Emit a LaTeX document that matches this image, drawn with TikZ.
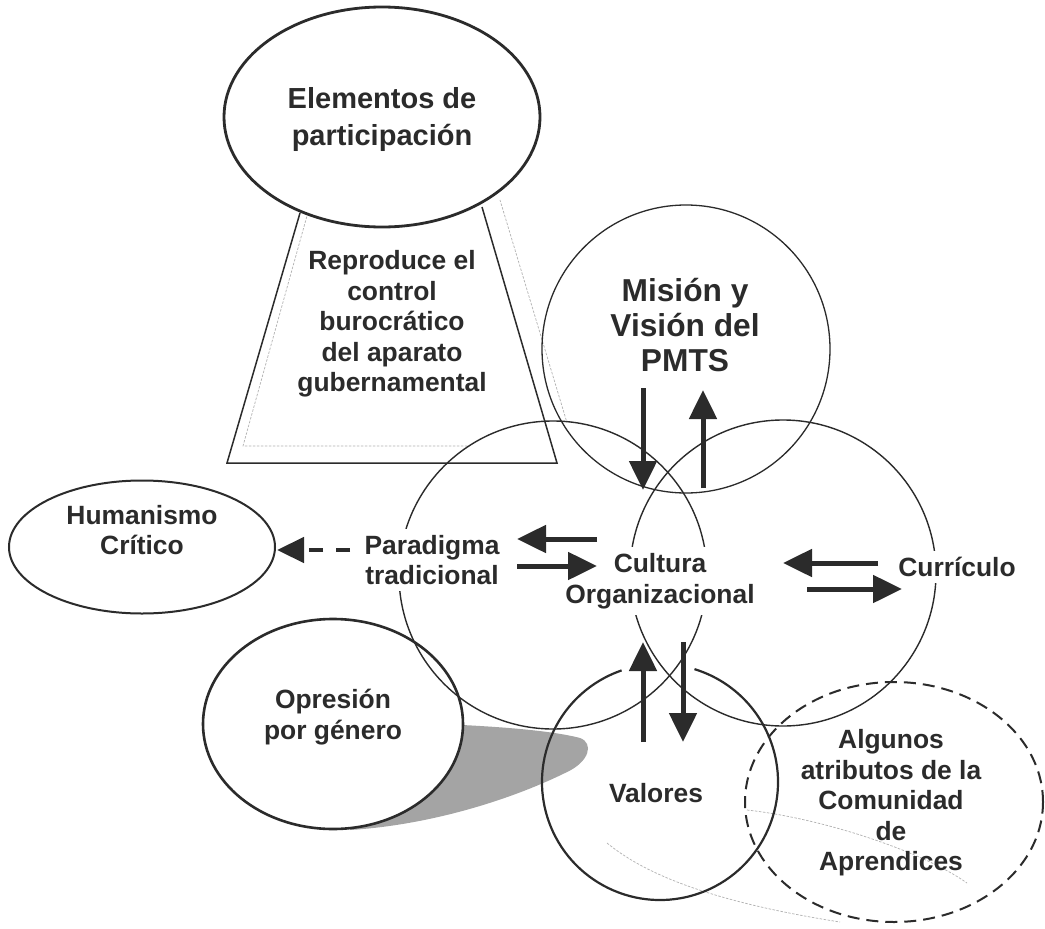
\documentclass[tikz,border=0pt]{standalone}
\usepackage{fontspec}
\setmainfont{Liberation Sans}
\usetikzlibrary{shapes.geometric,arrows.meta}
\definecolor{ink}{HTML}{2B2B2B}
\definecolor{hatchgray}{HTML}{A4A4A4}
\begin{document}
\begin{tikzpicture}[x=1pt,y=-1pt,
  lbl/.style={text=ink,font=\bfseries\fontsize{26.4}{30.5}\selectfont,align=center,inner sep=3pt},
  mask/.style={fill=white,inner sep=6pt},
  flow/.style={draw=ink,line width=5pt,-{Triangle[length=29pt,width=27pt]}},
  faint/.style={draw=black!30,line width=0.7pt,dash pattern=on 2.5pt off 1.5pt},
  oval/.style={ellipse,draw=ink,inner sep=0pt},
  ring/.style={circle,draw=ink,inner sep=0pt},
]
\useasboundingbox (0,0) rectangle (1045,929);
\fill[white] (0,0) rectangle (1045,929);

% faint shadows and the hatched shadow below the gender ellipse
\draw[faint] (310,205) -- (243,446) -- (574,446) -- (500,200);
\fill[hatchgray] (440,724) .. controls (490,726) and (550,730) .. (580,738)
  .. controls (594,743) and (590,762) .. (565,773)
  .. controls (510,800) and (430,825) .. (350,830) -- (350,760) -- cycle;
\draw[faint] (747,810) .. controls (820,818) and (920,850) .. (967,883);
\draw[faint] (607,843) .. controls (640,870) and (700,900) .. (840,922);

% white masks
\fill[white] (553,575) circle[radius=154pt];
\fill[white] (333,724) ellipse[x radius=130pt, y radius=105pt];

% trapezoid under the participation ellipse
\draw[ink,line width=1.5pt] (300,213) -- (227,463) -- (557,463) -- (482,207);

% shapes
\node[oval,fill=white,line width=2.8pt,minimum width=316pt,minimum height=220pt] (elem) at (382,117) {};
\node[ring,line width=1.3pt,minimum size=288pt] (mision) at (686,349) {};
\node[ring,line width=1.4pt,minimum size=308pt] (left) at (553,575) {};
\node[ring,line width=1.4pt,minimum size=306pt] (right) at (783,573) {};
\node[oval,line width=2pt,minimum width=266pt,minimum height=133pt] (human) at (142,547) {};
\node[oval,line width=2.6pt,minimum width=260pt,minimum height=210pt] (opres) at (333,724) {};
\node[oval,line width=2pt,dash pattern=on 12pt off 7pt,minimum width=298pt,minimum height=240pt] (comun) at (894,802) {};
\coordinate (vc) at (660,782);
\draw[ink,line width=2.2pt] (vc) ++(109:118pt) arc[start angle=109,end angle=433,radius=118pt];

% texts
\node[lbl,font=\bfseries\fontsize{29}{37}\selectfont] (elemtxt) at (382,120) {Elementos de\\participación};
\node[lbl] (reptxt) at (392,324) {Reproduce el\\control\\burocrático\\del aparato\\gubernamental};
\node[lbl,font=\bfseries\fontsize{31.7}{35}\selectfont] (mistxt) at (685,325) {Misión y\\Visión del\\PMTS};
\node[lbl,mask] (partxt) at (432,560) {Paradigma\\tradicional};
\node[lbl,mask] (cultxt) at (660,581) {Cultura\\Organizacional};
\node[lbl,mask] (curtxt) at (957,567) {Currículo};
\node[lbl] (humtxt) at (142,530) {Humanismo\\Crítico};
\node[lbl] (opretxt) at (333,717) {Opresión\\por género};
\node[lbl] (valtxt) at (656,793) {Valores};
\node[lbl] (algtxt) at (891,803) {Algunos\\atributos de la\\Comunidad\\de\\Aprendices};

% arrow end points
\coordinate (m1a) at (643,388); \coordinate (m1b) at (643,490);
\coordinate (m2a) at (703,488); \coordinate (m2b) at (703,390);
\coordinate (v1a) at (643,742); \coordinate (v1b) at (643,642);
\coordinate (v2a) at (683,642); \coordinate (v2b) at (683,742);
\coordinate (p1a) at (597,539); \coordinate (p1b) at (517,539);
\coordinate (p2a) at (517,566); \coordinate (p2b) at (597,566);
\coordinate (c1a) at (878,563); \coordinate (c1b) at (783,563);
\coordinate (c2a) at (807,589); \coordinate (c2b) at (902,589);
\coordinate (h1a) at (350,550); \coordinate (h1b) at (277,550);

% arrows
\draw[flow] (m1a) -- (m1b);
\draw[flow] (m2a) -- (m2b);
\draw[flow] (v1a) -- (v1b);
\draw[flow] (v2a) -- (v2b);
\draw[flow] (p1a) -- (p1b);
\draw[flow] (p2a) -- (p2b);
\draw[flow] (c1a) -- (c1b);
\draw[flow] (c2a) -- (c2b);
\draw[draw=ink,line width=4.5pt,dash pattern=on 14pt off 13pt,-{Triangle[length=27pt,width=25pt]}] (h1a) -- (h1b);
\end{tikzpicture}
\end{document}
